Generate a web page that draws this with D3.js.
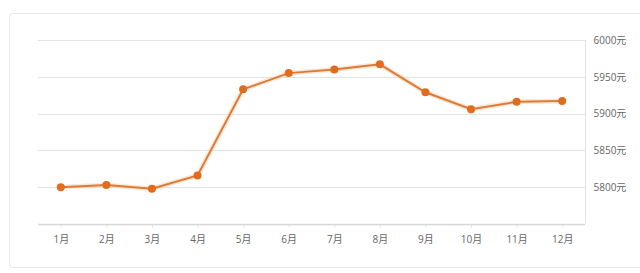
<!DOCTYPE html>
<html>
<head>
<meta charset="utf-8">
<script src="https://cdn.jsdelivr.net/npm/d3@7"></script>
<style>
  body { margin: 0; background: #fff; }
  text { font-family: "Open Sans", "Noto Sans CJK SC", sans-serif; }
</style>
</head>
<body>
<div id="chart"></div>
<script>

// monthly values (yuan)
var months = ["1月","2月","3月","4月","5月","6月","7月","8月","9月","10月","11月","12月"];
var prices = [5800, 5803, 5798, 5816, 5933, 5955, 5960, 5967, 5929, 5906, 5916, 5917];
var yTicks = [5800, 5850, 5900, 5950, 6000];

var width = 640, height = 273;
var margin = {top: 40, right: 55, bottom: 49, left: 38};

var svg = d3.select("#chart").append("svg")
  .attr("width", width)
  .attr("height", height);

// outer panel
svg.append("rect")
  .attr("x", 9.5).attr("y", 13.5)
  .attr("width", 640).attr("height", 254)
  .attr("rx", 3)
  .attr("fill", "#fff")
  .attr("stroke", "#e6e6e6");

var x = d3.scalePoint()
  .domain(months)
  .range([margin.left, width - margin.right])
  .padding(0.5);

var y = d3.scaleLinear()
  .domain([5750, 6000])
  .range([height - margin.bottom, margin.top]);

var plotRight = width - margin.right;

// gridlines
svg.append("g")
  .selectAll("line")
  .data(yTicks)
  .enter().append("line")
  .attr("x1", margin.left)
  .attr("x2", plotRight)
  .attr("y1", function(d) { return Math.round(y(d)) + 0.5; })
  .attr("y2", function(d) { return Math.round(y(d)) + 0.5; })
  .attr("stroke", "#e3e3e3");

// right axis
var yAxis = svg.append("g")
  .attr("transform", "translate(" + (plotRight + 0.5) + ",0)")
  .call(d3.axisRight(y).tickValues(yTicks).tickSize(0).tickPadding(8)
    .tickFormat(function(d) { return d + "元"; }));
yAxis.select(".domain")
  .attr("d", "M0," + y(6000) + "V" + y(5750))
  .attr("stroke", "#e3e3e3");
yAxis.selectAll("text")
  .attr("fill", "#666")
  .attr("font-size", 10);

// bottom axis
var xAxis = svg.append("g")
  .attr("transform", "translate(0," + (Math.round(y(5750)) + 0.5) + ")")
  .call(d3.axisBottom(x).tickSize(3).tickPadding(8).tickSizeOuter(0));
xAxis.select(".domain")
  .attr("d", "M" + margin.left + ",0H" + plotRight)
  .attr("stroke", "#d6d6d6")
  .attr("stroke-width", 1.5);
xAxis.selectAll(".tick line").attr("stroke", "#e0e0e0");
xAxis.selectAll("text")
  .attr("fill", "#666")
  .attr("font-size", 10);

// line
var line = d3.line()
  .x(function(d, i) { return x(months[i]); })
  .y(function(d) { return y(d); });

svg.append("path")
  .datum(prices)
  .attr("d", line)
  .attr("fill", "none")
  .attr("stroke", "#f5d2b8")
  .attr("stroke-width", 5)
  .attr("stroke-opacity", 0.5);

svg.append("path")
  .datum(prices)
  .attr("d", line)
  .attr("fill", "none")
  .attr("stroke", "#df7a33")
  .attr("stroke-width", 2);

svg.append("g")
  .selectAll("circle")
  .data(prices)
  .enter().append("circle")
  .attr("cx", function(d, i) { return x(months[i]); })
  .attr("cy", function(d) { return y(d); })
  .attr("r", 4)
  .attr("fill", "#e06c1e");

</script>
</body>
</html>
